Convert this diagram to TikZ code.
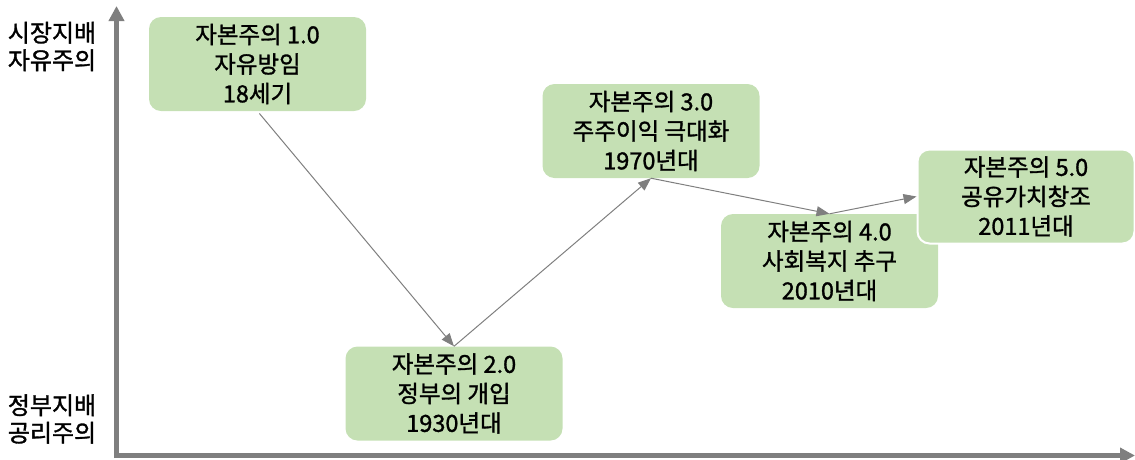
\documentclass[tikz,border=0pt]{standalone}
\usepackage{fontspec}
\setmainfont[FakeBold=1.3]{Noto Sans CJK KR}
\usetikzlibrary{arrows.meta}
\definecolor{boxgreen}{HTML}{C5E0B4}
\definecolor{axisgray}{HTML}{7F7F7F}
\begin{document}
\begin{tikzpicture}[x=1pt,y=-1pt,
  stagebox/.style={rectangle, rounded corners=12pt, fill=boxgreen, minimum width=217pt, minimum height=94pt, align=center, font=\fontsize{23.5}{29.5}\selectfont, inner sep=0pt},
  sidelabel/.style={align=center, font=\fontsize{24}{27.5}\selectfont, inner sep=0pt},
  flow/.style={draw=axisgray, line width=1pt, -{Triangle[length=13pt,width=10pt]}},
  axis/.style={draw=axisgray, line width=4.5pt, -{Triangle[length=15pt,width=15pt]}}
]
\useasboundingbox (0,0) rectangle (1135,459);
\coordinate (o) at (116.5,458);
\coordinate (ytop) at (116.5,6);
\coordinate (o2) at (114.5,455.5);
\coordinate (xend) at (1135,455.5);
\draw[axis] (o) -- (ytop);
\draw[axis] (o2) -- (xend);

\node[sidelabel] (top) at (52,46.5) {시장지배\\자유주의};
\node[sidelabel] (bot) at (52,419) {정부지배\\공리주의};

\node[stagebox] (b1) at (257.5,64) {자본주의 1.0\\자유방임\\18세기};
\node[stagebox] (b2) at (454,393.5) {자본주의 2.0\\정부의 개입\\1930년대};
\node[stagebox] (b3) at (651,131) {자본주의 3.0\\주주이익 극대화\\1970년대};
\node[stagebox] (b4) at (829.5,261) {자본주의 4.0\\사회복지 추구\\2010년대};
\node[stagebox, draw=white, line width=2pt] (b5) at (1026,196.5) {자본주의 5.0\\공유가치창조\\2011년대};

\draw[flow, shorten <=3pt] (b1.south) -- (b2.north);
\draw[flow] (b2.north) -- (b3.south);
\draw[flow] (b3.south) -- (b4.north);
\draw[flow] (b4.north) -- (b5.west);
\end{tikzpicture}
\end{document}
